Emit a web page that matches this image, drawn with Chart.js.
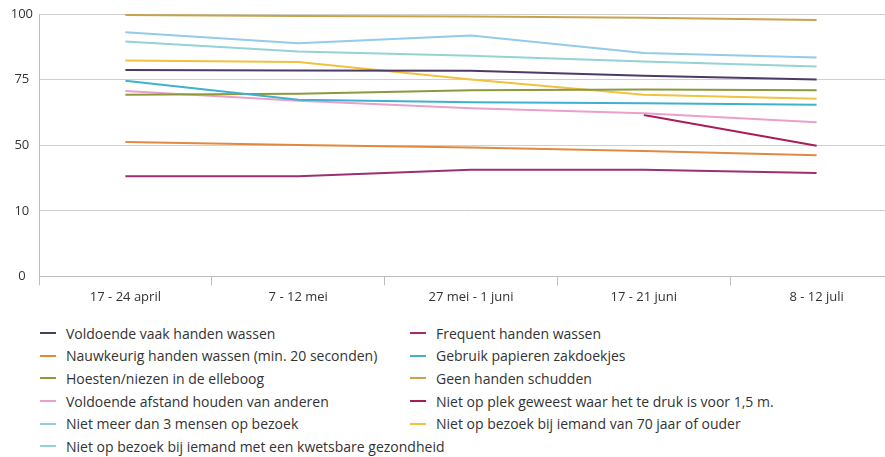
<!DOCTYPE html>
<html>
<head>
<meta charset="utf-8">
<script src="https://cdn.jsdelivr.net/npm/chart.js@4.4.0/dist/chart.umd.min.js"></script>
<style>
  body { margin: 0; background: #fff; overflow: hidden; font-family: "Open Sans", sans-serif; color: #333; }
  #wrap { position: relative; width: 905px; height: 311px; }
  #legend { position: absolute; left: 40px; top: 322px; display: grid; grid-template-columns: 370px 460px; row-gap: 0; }
  .item { display: flex; align-items: center; height: 22.6px; font-size: 14px; white-space: nowrap; }
  .item:last-child { grid-column: 1 / span 2; }
  .item span.mark { display: inline-block; flex-shrink: 0; width: 16px; height: 2px; margin-right: 10px; }
</style>
</head>
<body>
<div id="wrap"><canvas id="gedragChart"></canvas></div>
<div id="legend"></div>
<script>
const categories = ['17 - 24 april', '7 - 12 mei', '27 mei - 1 juni', '17 - 21 juni', '8 - 12 juli'];
const yTickLabels = [0, 10, 50, 75, 100];

// percentages
const voldoendeVaak = [78.7, 78.5, 78.4, 76.5, 75.0];
const frequentWassen = [31.0, 31.0, 35.0, 35.0, 33.0];
const nauwkeurigWassen = [51.2, 50.1, 48.6, 46.5, 43.8];
const papierenZakdoekjes = [74.6, 67.3, 66.4, 66.0, 65.4];
const elleboog = [69.2, 69.6, 70.9, 71.2, 70.9];
const geenHandenSchudden = [99.6, 99.2, 99.0, 98.6, 97.7];
const afstandHouden = [70.7, 66.9, 64.1, 62.2, 58.7];
const nietOpPlekDruk = [null, null, null, 61.5, 49.7];
const maxDrieBezoek = [93.0, 88.9, 91.8, 85.1, 83.4];
const geenBezoek70 = [82.3, 81.7, 75.0, 69.2, 67.7];
const geenBezoekKwetsbaar = [89.5, 85.7, 84.1, 81.9, 80.0];

// the axis is not linear: every tick label sits at an equal step
function toAxis(v) {
    if (v === null) return null;
    for (let i = 0; i < yTickLabels.length - 1; i++) {
        if (v <= yTickLabels[i + 1]) {
            return i + (v - yTickLabels[i]) / (yTickLabels[i + 1] - yTickLabels[i]);
        }
    }
    return yTickLabels.length - 1;
}

function serie(label, values, color) {
    return {
        label: label,
        data: values.map(toAxis),
        borderColor: color,
        backgroundColor: color,
        borderWidth: 2,
        pointRadius: 0,
        tension: 0,
        spanGaps: false
    };
}

document.addEventListener("DOMContentLoaded", function () {
    const ctx = document.getElementById('gedragChart');

    const chart = new Chart(ctx, {
        type: 'line',
        data: {
            labels: categories,
            datasets: [
                serie('Voldoende vaak handen wassen', voldoendeVaak, '#4d3a66'),
                serie('Frequent handen wassen', frequentWassen, '#9c2f73'),
                serie('Nauwkeurig handen wassen (min. 20 seconden)', nauwkeurigWassen, '#e2893f'),
                serie('Gebruik papieren zakdoekjes', papierenZakdoekjes, '#3fb1cf'),
                serie('Hoesten/niezen in de elleboog', elleboog, '#8c9a3c'),
                serie('Geen handen schudden', geenHandenSchudden, '#c9a24c'),
                serie('Voldoende afstand houden van anderen', afstandHouden, '#eaa0cb'),
                serie('Niet op plek geweest waar het te druk is voor 1,5 m.', nietOpPlekDruk, '#a81c5c'),
                serie('Niet meer dan 3 mensen op bezoek', maxDrieBezoek, '#94cbe8'),
                serie('Niet op bezoek bij iemand van 70 jaar of ouder', geenBezoek70, '#f1c23f'),
                serie('Niet op bezoek bij iemand met een kwetsbare gezondheid', geenBezoekKwetsbaar, '#95d3d3')
            ]
        },
        options: {
            responsive: true,
            maintainAspectRatio: false,
            animation: false,
            layout: { padding: { top: 14, right: 2, bottom: 2, left: 0 } },
            scales: {
                x: {
                    offset: true,
                    grid: { drawOnChartArea: false, offset: true, tickLength: 9, color: '#bdbdbd' },
                    border: { color: '#bdbdbd' },
                    ticks: { color: '#333', font: { family: 'Open Sans', size: 13 }, padding: 4, maxRotation: 0 }
                },
                y: {
                    min: 0,
                    max: 4,
                    afterFit: function (scale) { scale.width = 39; },
                    grid: { color: '#cfcfcf', drawTicks: false },
                    border: { color: '#bdbdbd' },
                    ticks: {
                        stepSize: 1,
                        crossAlign: 'center',
                        padding: 6,
                        color: '#333',
                        font: { family: 'Open Sans', size: 13 },
                        callback: function (value) { return yTickLabels[value]; }
                    }
                }
            },
            plugins: {
                legend: { display: false },
                tooltip: { enabled: true }
            }
        }
    });

    // legend in two columns, like the original
    const legend = document.getElementById('legend');
    chart.data.datasets.forEach(ds => {
        const item = document.createElement('div');
        item.className = 'item';
        item.innerHTML = '<span class="mark" style="background:' + ds.borderColor + '"></span>' + ds.label;
        legend.appendChild(item);
    });
});
</script>
</body>
</html>
